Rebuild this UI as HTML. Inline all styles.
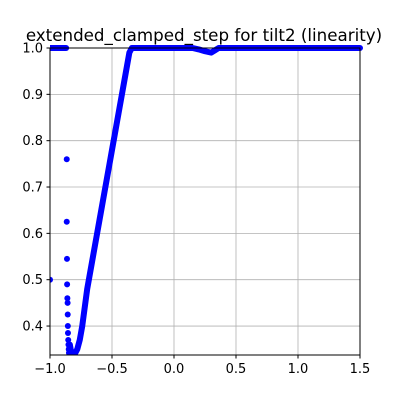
<!DOCTYPE html>
<html><head><meta charset="utf-8"><style>
body{margin:0;background:#fff}
svg{display:block;font-family:"DejaVu Sans","Liberation Sans",sans-serif}
</style></head><body>
<svg id="chart" width="400" height="400">
<rect width="400" height="400" fill="#fff"/>
<text x="204" y="41" text-anchor="middle" font-size="16.7" fill="#000">extended_clamped_step for tilt2 (linearity)</text>
<g id="grid"></g>
<g id="ticks"></g>
<g id="plot"></g>
<rect x="50" y="48" width="310" height="307" fill="none" stroke="#000" stroke-width="1"/>
</svg>
<script>
const xTicks=[-1.0,-0.5,0.0,0.5,1.0,1.5];
const xTickLabels=["−1.0","−0.5","0.0","0.5","1.0","1.5"];
const yTicks=[0.4,0.5,0.6,0.7,0.8,0.9,1.0];
const yTickLabels=["0.4","0.5","0.6","0.7","0.8","0.9","1.0"];
const curveX=[-0.84,-0.83,-0.82,-0.81,-0.80,-0.79,-0.78,-0.77,-0.76,-0.75,-0.74,-0.73,-0.72,-0.71,-0.70,-0.68,-0.66,-0.64,-0.62,-0.60,-0.58,-0.56,-0.54,-0.52,-0.50,-0.48,-0.46,-0.44,-0.42,-0.40,-0.38,-0.36,-0.34,-0.32];
const curveY=[0.36,0.345,0.338,0.338,0.34,0.345,0.35,0.36,0.37,0.385,0.40,0.42,0.44,0.46,0.48,0.51,0.54,0.57,0.60,0.63,0.66,0.69,0.72,0.75,0.78,0.81,0.84,0.87,0.90,0.93,0.96,0.99,1.0,1.0];
const flatX=[-0.32,0.0,0.15,0.2,0.25,0.3,0.33,0.36,0.5,1.0,1.5];
const flatY=[1.0,1.0,1.0,0.997,0.993,0.99,0.995,1.0,1.0,1.0,1.0];
const leftFlatX=[-1.0,-0.95,-0.9,-0.87];
const leftFlatY=[1.0,1.0,1.0,1.0];
const outlierX=[-1.0,-0.865,-0.865,-0.863,-0.862,-0.86,-0.858,-0.857,-0.856,-0.855,-0.853,-0.851,-0.849,-0.847];
const outlierY=[0.5,0.76,0.625,0.545,0.49,0.46,0.45,0.425,0.40,0.385,0.37,0.36,0.35,0.342];
const X0=50,X1=360,Y0=48,Y1=355,xMin=-1,xMax=1.5,yMin=0.3375,yMax=1.0;
const sx=v=>X0+(v-xMin)/(xMax-xMin)*(X1-X0);
const sy=v=>Y1-(v-yMin)/(yMax-yMin)*(Y1-Y0);
const NS="http://www.w3.org/2000/svg";
const grid=document.getElementById('grid'),ticks=document.getElementById('ticks'),plot=document.getElementById('plot');
function mk(t,a,p){const e=document.createElementNS(NS,t);for(const k in a)e.setAttribute(k,a[k]);p.appendChild(e);return e;}
xTicks.forEach((v,i)=>{const x=sx(v);
 const g=mk('line',{x1:x,x2:x,y1:Y0,y2:Y1,stroke:'#b0b0b0','stroke-width':0.8},grid);
 
 
 const t=mk('line',{x1:x,x2:x,y1:Y1,y2:Y1+3.5,stroke:'#000'},ticks);
 
 
 const l=mk('text',{x:x,y:Y1+18,'text-anchor':'middle','font-size':13},ticks);l.textContent=xTickLabels[i];
 
 
});
yTicks.forEach((v,i)=>{const y=sy(v);
 const g=mk('line',{x1:X0,x2:X1,y1:y,y2:y,stroke:'#b0b0b0','stroke-width':0.8},grid);
 
 
 const t=mk('line',{x1:X0-3.5,x2:X0,y1:y,y2:y,stroke:'#000'},ticks);
 
 
 const l=mk('text',{x:X0-7,y:y+4.5,'text-anchor':'end','font-size':13},ticks);l.textContent=yTickLabels[i];
 
 
});
const clip=mk('clipPath',{id:'cp'},document.getElementById('chart'));
mk('rect',{x:X0,y:Y0-4,width:X1-X0+4,height:Y1-Y0+4},clip);
plot.setAttribute('clip-path','url(#cp)');
function series(xs,ys,name){
 const pl=mk('polyline',{points:xs.map((v,i)=>sx(v)+','+sy(ys[i])).join(' '),fill:'none',stroke:'#0000ff','stroke-width':6,'stroke-linejoin':'round','stroke-linecap':'round'},plot);
 
 
}
series(curveX,curveY,'rising-curve');
series(flatX,flatY,'flat-top');
series(leftFlatX,leftFlatY,'left-flat');
outlierX.forEach((v,i)=>{
 const c=mk('circle',{cx:sx(v),cy:sy(outlierY[i]),r:3,fill:'#0000ff'},plot);
 
 
});
</script>
</body></html>
